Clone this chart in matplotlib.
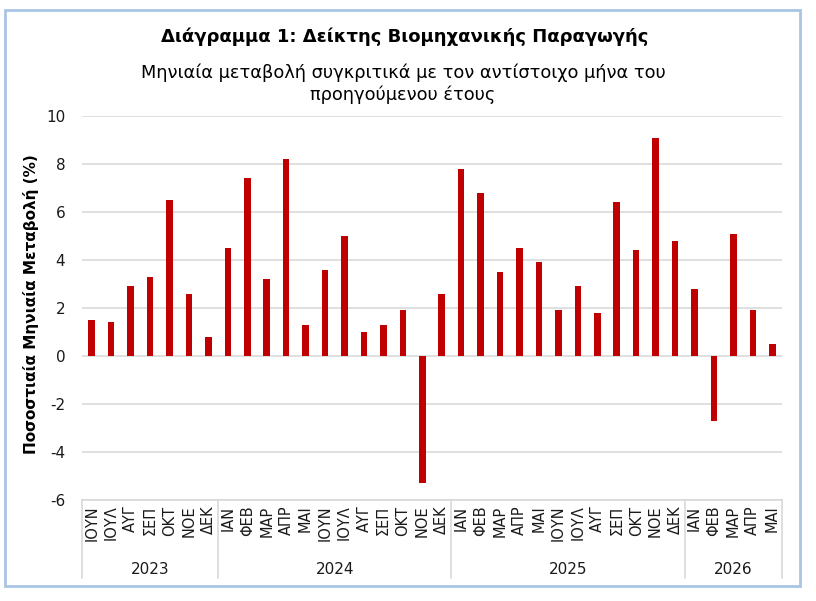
import matplotlib
matplotlib.use("Agg")
import matplotlib.pyplot as plt
import matplotlib.transforms as mtransforms
from matplotlib.patches import Rectangle
import numpy as np

plt.rcParams['font.family'] = ['DejaVu Sans']
plt.rcParams['axes.unicode_minus'] = False

years = ["2023", "2024", "2025", "2026"]
months_by_year = [
    ["ΙΟΥΝ", "ΙΟΥΛ", "ΑΥΓ", "ΣΕΠ", "ΟΚΤ", "ΝΟΕ", "ΔΕΚ"],
    ["ΙΑΝ", "ΦΕΒ", "ΜΑΡ", "ΑΠΡ", "ΜΑΙ", "ΙΟΥΝ", "ΙΟΥΛ", "ΑΥΓ", "ΣΕΠ", "ΟΚΤ", "ΝΟΕ", "ΔΕΚ"],
    ["ΙΑΝ", "ΦΕΒ", "ΜΑΡ", "ΑΠΡ", "ΜΑΙ", "ΙΟΥΝ", "ΙΟΥΛ", "ΑΥΓ", "ΣΕΠ", "ΟΚΤ", "ΝΟΕ", "ΔΕΚ"],
    ["ΙΑΝ", "ΦΕΒ", "ΜΑΡ", "ΑΠΡ", "ΜΑΙ"],
]
values_2023 = [1.5, 1.4, 2.9, 3.3, 6.5, 2.6, 0.8]
values_2024 = [4.5, 7.4, 3.2, 8.2, 1.3, 3.6, 5.0, 1.0, 1.3, 1.9, -5.3, 2.6]
values_2025 = [7.8, 6.8, 3.5, 4.5, 3.9, 1.9, 2.9, 1.8, 6.4, 4.4, 9.1, 4.8]
values_2026 = [2.8, -2.7, 5.1, 1.9, 0.5]

title = "Διάγραμμα 1: Δείκτης Βιομηχανικής Παραγωγής"
subtitle = "Μηνιαία μεταβολή συγκριτικά με τον αντίστοιχο μήνα του\nπροηγούμενου έτους"
ylabel = "Ποσοστιαία Μηνιαία Μεταβολή (%)"

labels = [m for ms in months_by_year for m in ms]
values = values_2023 + values_2024 + values_2025 + values_2026
x = np.arange(len(values))

fig = plt.figure(figsize=(8.16, 6.01), dpi=100)
ax = fig.add_axes([82/816, 1-500/601, 700/816, 384/601])

ax.bar(x, values, width=0.34, color="#C00000", zorder=3)
ax.set_xlim(-0.5, len(values)-0.5)
ax.set_ylim(-6, 10)
ax.set_yticks(np.arange(-6, 11, 2))
ax.yaxis.grid(True, color="#D9D9D9", linewidth=1.2, zorder=0)
for s in ["top", "right", "left"]:
    ax.spines[s].set_visible(False)
ax.spines["bottom"].set_color("#D9D9D9")
ax.spines["bottom"].set_linewidth(1.2)
ax.spines["bottom"].set_position(("data", -6))
ax.tick_params(axis="y", length=0, labelsize=11, colors="#1a1a1a", pad=12)
ax.set_xticks(x)
ax.set_xticklabels(labels, rotation=90, fontsize=10.5, color="#1a1a1a")
ax.tick_params(axis="x", length=0, pad=4)

# year group separators and labels
trans = mtransforms.blended_transform_factory(ax.transData, ax.transAxes)
counts = [len(m) for m in months_by_year]
bounds = np.concatenate([[0], np.cumsum(counts)]) - 0.5
for b in bounds:
    ax.plot([b, b], [0, -78/384], transform=trans, color="#D9D9D9",
            linewidth=1.2, clip_on=False)
for i, yr in enumerate(years):
    ax.text((bounds[i] + bounds[i+1]) / 2, -70/384, yr, transform=trans,
            ha="center", va="center", fontsize=11, color="#1a1a1a")

ax.set_ylabel(ylabel, fontsize=11, fontweight="bold")
ax.yaxis.set_label_coords(-43/700, 0.51)

fig.text(405/816, 1-37/601, title, ha="center", va="center",
         fontsize=13, fontweight="bold")
fig.text(403/816, 1-84/601, subtitle, ha="center", va="center",
         fontsize=12.8, linespacing=1.25)

fig.patches.append(Rectangle((5/816, 1-586/601), 795/816, 576/601,
                             transform=fig.transFigure, fill=False,
                             edgecolor="#A9C4E4", linewidth=2))

fig.savefig("out.png", dpi=100)
